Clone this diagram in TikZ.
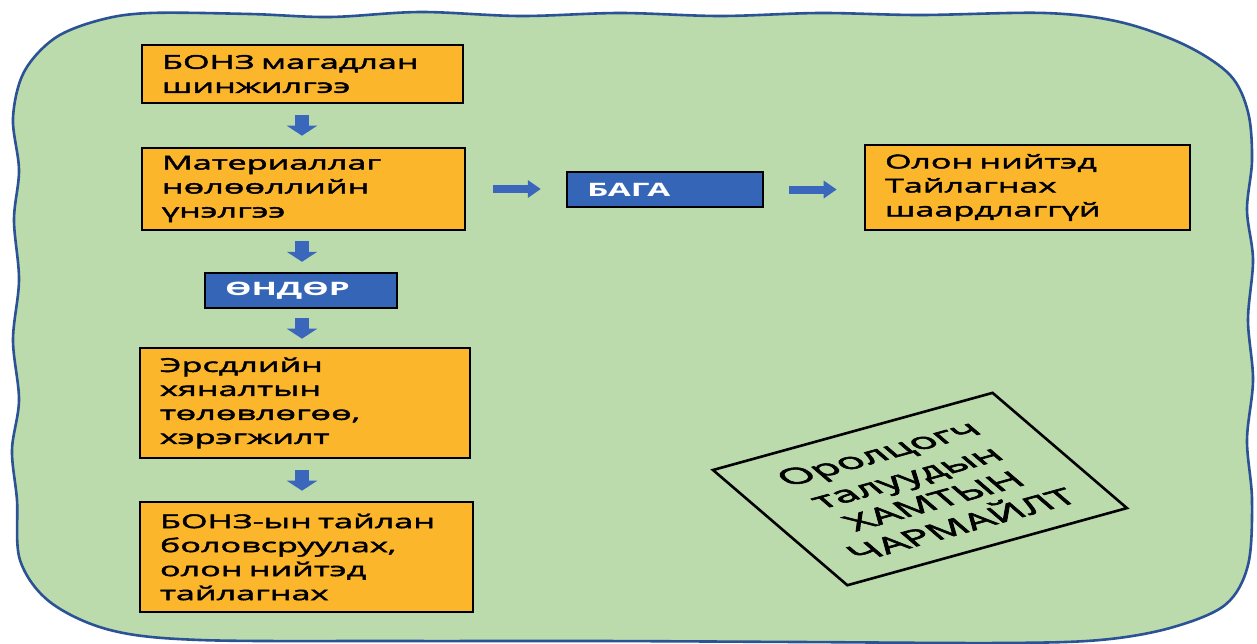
\documentclass[tikz,border=0pt]{standalone}
\usepackage{fontspec}
\usetikzlibrary{arrows.meta}
\newfontfamily\boxfont[FakeStretch=1.8, FakeBold=2.5]{Open Sans}
\newfontfamily\tagfont[FakeStretch=1.8]{Open Sans}
\newfontfamily\rotfont[FakeStretch=1.42, FakeBold=2.5]{Open Sans}
\definecolor{bg}{RGB}{187,219,172}
\definecolor{edge}{RGB}{44,82,150}
\definecolor{orng}{RGB}{252,182,44}
\definecolor{tagblue}{RGB}{52,101,182}
\definecolor{arr}{RGB}{58,102,188}
\begin{document}
\begin{tikzpicture}[x=1pt,y=-1pt,
  box/.style={draw=black, line width=2.6pt, fill=orng, inner xsep=20pt, inner ysep=0pt,
    align=left, text=black, font=\boxfont\fontsize{19}{24}\selectfont},
  tag/.style={draw=black, line width=2.4pt, fill=tagblue, text=white, inner xsep=20pt,
    inner ysep=0pt, align=left, font=\tagfont\bfseries\fontsize{18.5}{22}\selectfont},
  varrow/.style={draw=arr, line width=14pt, -{Triangle[length=10pt,width=30pt]}},
  harrow/.style={draw=arr, line width=8pt, -{Triangle[length=13pt,width=17pt]}},
]
\useasboundingbox (0,0) rectangle (1257,643);
\fill[white] (0,0) rectangle (1257,643);
% background blob
\path[fill=bg, draw=edge, line width=2.6pt]
  plot[smooth cycle, tension=0.55] coordinates {
   (13,118) (24,72) (55,38) (100,20) (150,13)
   (250,14) (330,17) (420,12) (520,16) (620,13) (720,16) (820,13) (920,15) (1045,13)
   (1120,22) (1185,45) (1230,75) (1248,112)
   (1252,160) (1247,210) (1253,260) (1248,320) (1253,380) (1247,440) (1252,500) (1248,565)
   (1225,605) (1170,628) (1100,640) (1000,643)
   (800,642) (600,641) (400,641) (200,640)
   (110,630) (50,602) (20,560)
   (17,500) (12,450) (19,400) (13,340) (19,280) (14,220) (19,170)};

% boxes
\node[box, minimum width=321pt, minimum height=58pt, text width=281pt] (b1) at (302.5,74)
  {БОНЗ~магадлан\\шинжилгээ};
\node[box, minimum width=323pt, minimum height=82pt, text width=283pt] (b2) at (303.5,189)
  {Материаллаг\\нөлөөллийн\\үнэлгээ};
\node[tag, minimum width=192pt, minimum height=35pt, text width=152pt] (ondor) at (301,290.5)
  {ӨНДӨР};
\node[box, minimum width=330pt, minimum height=110pt, text width=290pt] (b3) at (305,403)
  {Эрсдлийн\\хяналтын\\төлөвлөгөө,\\хэрэгжилт};
\node[box, minimum width=333pt, minimum height=110pt, text width=293pt] (b4) at (306.5,557)
  {БОНЗ-ын~тайлан\\боловсруулах,\\олон~нийтэд\\тайлагнах};
\node[tag, minimum width=196pt, minimum height=35pt, text width=156pt] (baga) at (665,189.5)
  {БАГА};
\node[box, minimum width=325pt, minimum height=85pt, text width=285pt] (b5) at (1027.5,187.5)
  {Олон~нийтэд\\Тайлагнах\\шаардлаггүй};

% arrows
\draw[varrow, shorten <=11pt, shorten >=11pt] (302,0 |- b1.south) -- (302,0 |- b2.north);
\draw[varrow, shorten <=10pt, shorten >=10pt] (302,0 |- b2.south) -- (302,0 |- ondor.north);
\draw[varrow, shorten <=9pt, shorten >=8pt] (302,0 |- ondor.south) -- (302,0 |- b3.north);
\draw[varrow, shorten <=11pt, shorten >=10pt] (302,0 |- b3.south) -- (302,0 |- b4.north);
\draw[harrow, shorten <=27pt, shorten >=25pt] (b2.east) -- (b2.east -| baga.west);
\draw[harrow, shorten <=25pt, shorten >=27pt] (baga.east) -- (baga.east -| b5.west);

% skewed note
\begin{scope}[shift={(713,470)}, cm={0.964,0.266,-0.759,0.651,(0,0)}]
  \node[draw=black, line width=2.6pt, transform shape, minimum width=290pt,
        minimum height=177pt, inner sep=0pt, align=center,
        font=\rotfont\fontsize{29.5}{36.7}\selectfont] (collab) at (145,88.5)
    {Оролцогч\\талуудын\\ХАМТЫН\\ЧАРМАЙЛТ};
\end{scope}
\end{tikzpicture}
\end{document}
